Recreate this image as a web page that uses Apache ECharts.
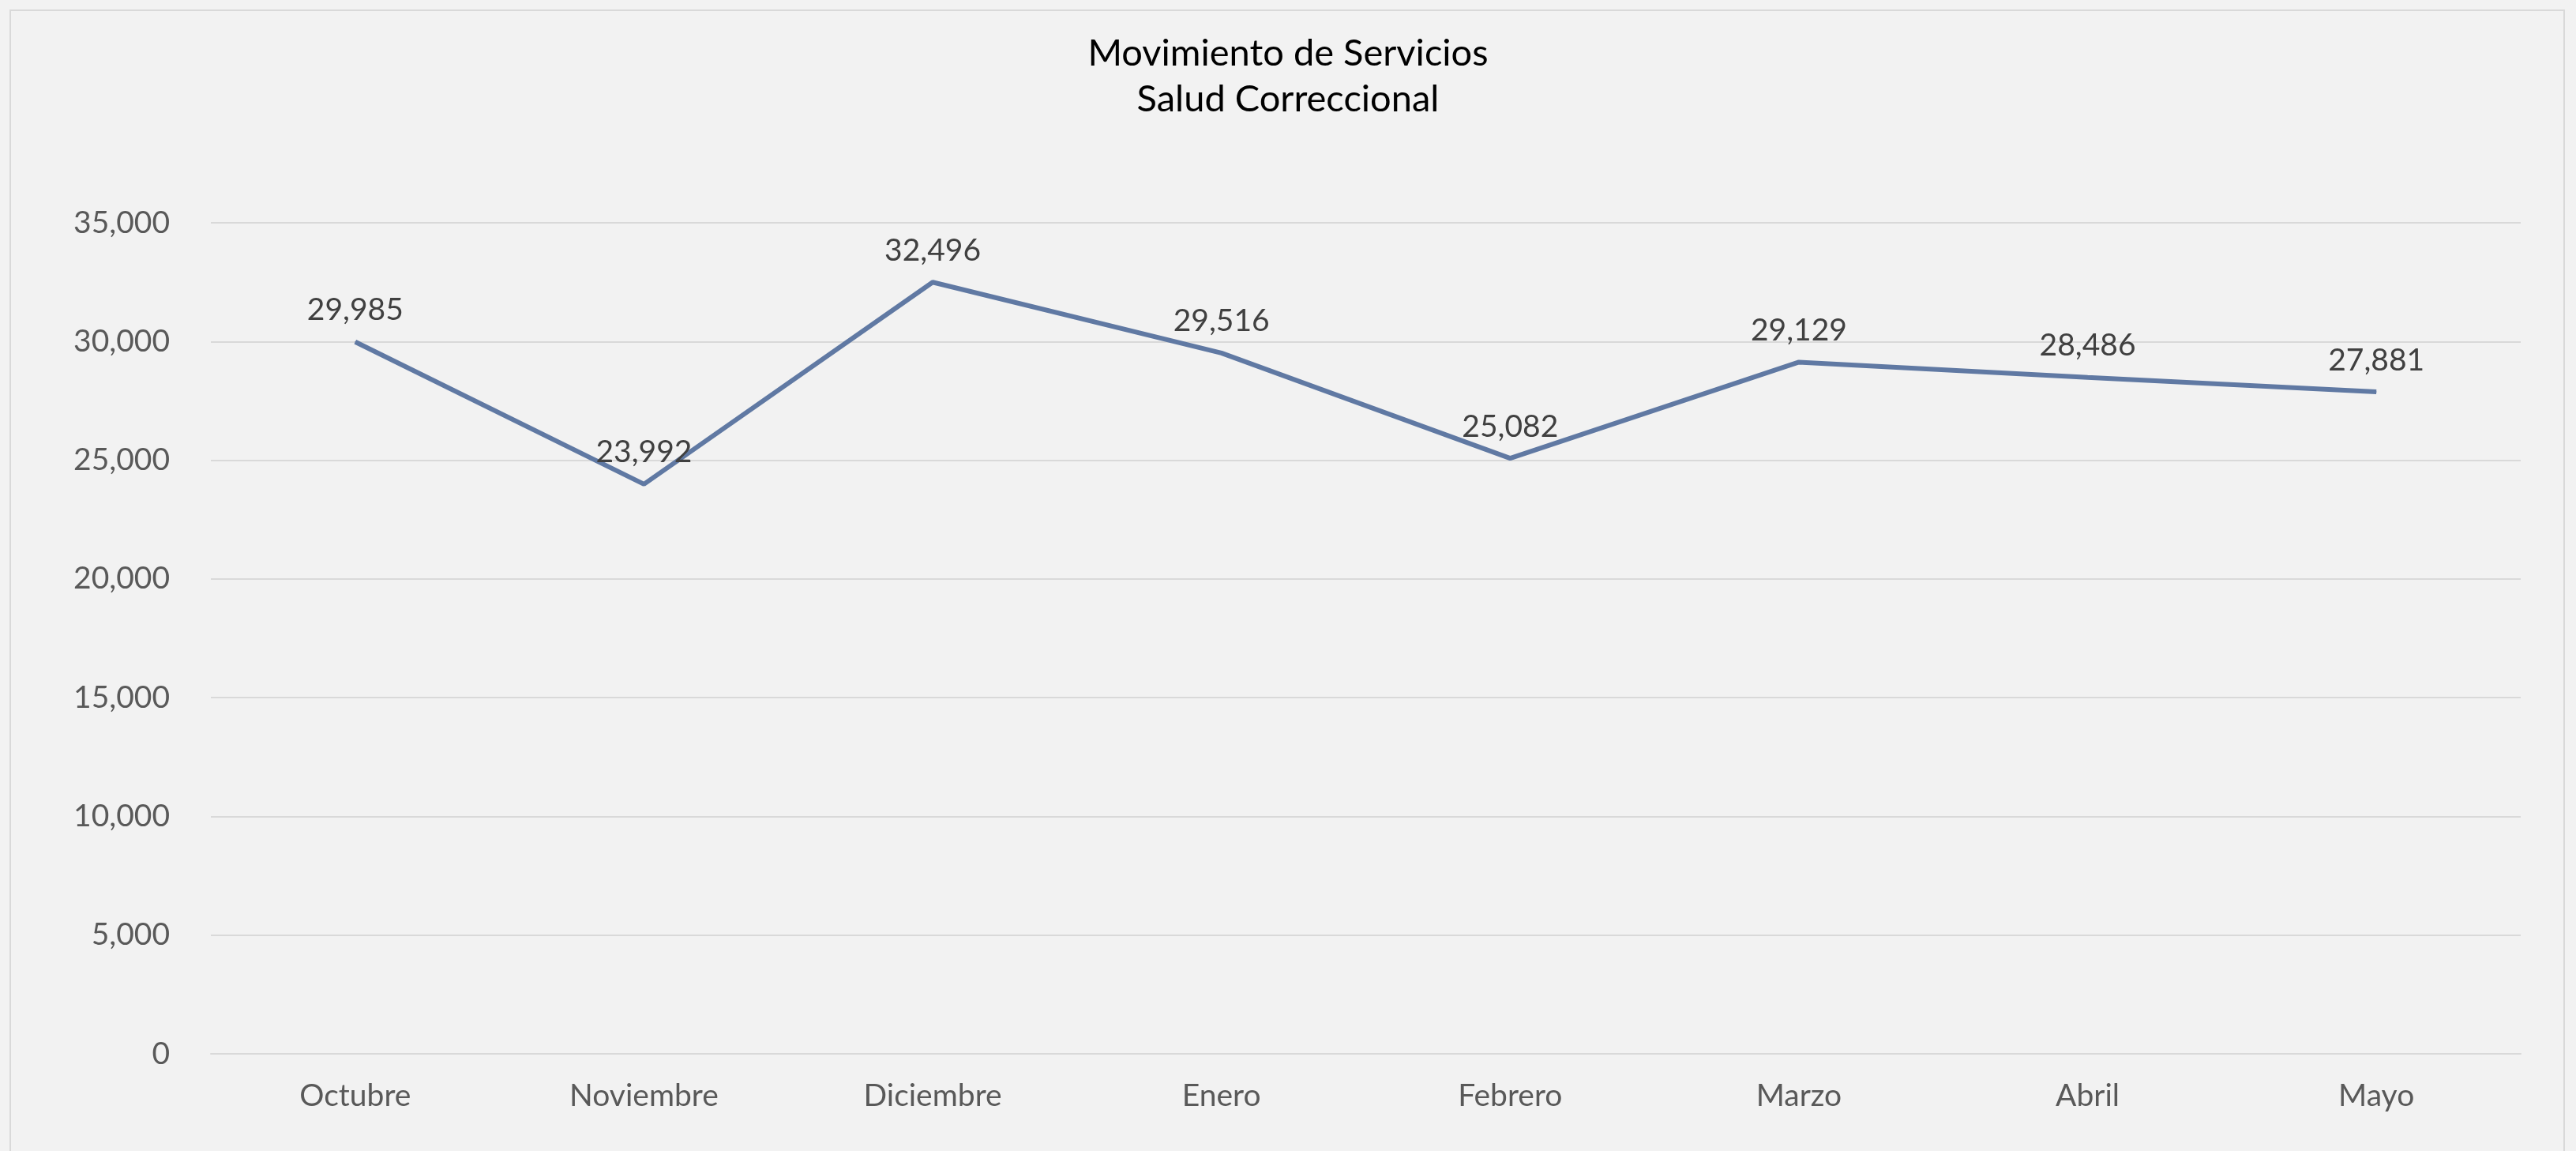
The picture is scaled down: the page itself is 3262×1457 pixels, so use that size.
<!DOCTYPE html>
<html lang="es">
<head>
    <meta charset="UTF-8">
    <title>Movimiento de Servicios - Salud Correccional</title>
    <script src="https://cdnjs.cloudflare.com/ajax/libs/echarts/6.0.0/echarts.min.js"></script>
    <style>
        html, body { margin: 0; padding: 0; background: #f2f2f2; overflow: hidden; }
        #frame { position: absolute; left: 12px; top: 12px; width: 3236px; height: 1500px; border: 2px solid #d9d9d9; box-sizing: border-box; }
        #myChart { position: absolute; left: 0; top: 0; width: 3262px; height: 1457px; }
    </style>
</head>
<body>
    <div id="frame"></div>
    <div id="myChart"></div>

    <script>
        // datos
        const meses = ['Octubre', 'Noviembre', 'Diciembre', 'Enero', 'Febrero', 'Marzo', 'Abril', 'Mayo'];
        const servicios = [29985, 23992, 32496, 29516, 25082, 29129, 28486, 27881];
        const yTicks = [0, 5000, 10000, 15000, 20000, 25000, 30000, 35000];

        const fuente = 'Lato, "Open Sans", sans-serif';
        const fmt = v => Number(v).toLocaleString('en-US');

        const myChart = echarts.init(document.getElementById('myChart'));
        const option = {
            backgroundColor: 'transparent',
            title: {
                text: 'Movimiento de Servicios\nSalud Correccional',
                left: 'center',
                top: 34,
                textStyle: {
                    fontFamily: fuente,
                    fontSize: 47,
                    fontWeight: 'normal',
                    color: '#000000',
                    lineHeight: 58,
                },
            },
            grid: {
                left: 267,
                right: 70,
                top: 282,
                bottom: 123,
            },
            xAxis: {
                type: 'category',
                data: meses,
                boundaryGap: true,
                axisLine: { show: true, lineStyle: { color: '#d9d9d9', width: 2 } },
                axisTick: { show: false },
                axisLabel: {
                    margin: 34,
                    fontFamily: fuente,
                    fontSize: 39,
                    color: '#595959',
                },
            },
            yAxis: {
                type: 'value',
                min: yTicks[0],
                max: yTicks[yTicks.length - 1],
                interval: 5000,
                axisLine: { show: false },
                axisTick: { show: false },
                splitLine: { lineStyle: { color: '#d9d9d9', width: 2 } },
                axisLabel: {
                    margin: 52,
                    fontFamily: fuente,
                    fontSize: 39,
                    color: '#595959',
                    formatter: fmt,
                },
            },
            series: [
                {
                    name: 'Servicios',
                    type: 'line',
                    data: servicios,
                    showSymbol: true,
                    symbol: 'circle',
                    symbolSize: 1,
                    lineStyle: { color: '#6079a3', width: 6 },
                    itemStyle: { color: '#6079a3' },
                    label: {
                        show: true,
                        position: 'top',
                        distance: 20,
                        fontFamily: fuente,
                        fontSize: 39,
                        color: '#404040',
                        formatter: p => fmt(p.value),
                    },
                    labelLayout: { hideOverlap: false },
                    animation: false,
                },
            ],
        };
        myChart.setOption(option);
    </script>
</body>
</html>
